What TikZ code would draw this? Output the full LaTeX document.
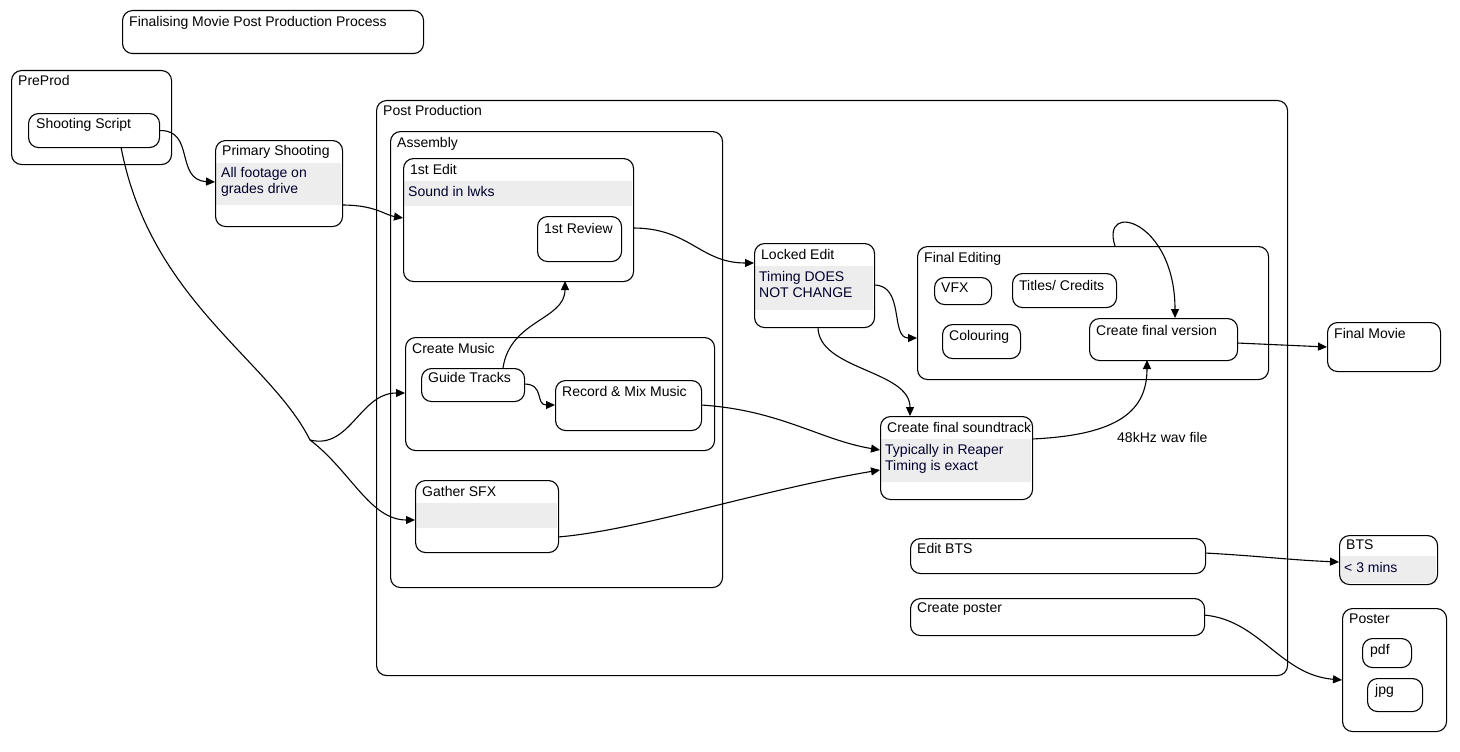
\documentclass[tikz,border=0pt]{standalone}
\usepackage{fontspec}
\setmainfont{Liberation Sans}
\usetikzlibrary{arrows.meta}
\tikzset{
 st/.style={draw,line width=1.1pt,rounded corners=10pt,inner sep=0pt,anchor=north west},
 lb/.style={anchor=north west,inner sep=0pt,font=\fontsize{14}{16}\selectfont},
 gl/.style={lb,text=black!70!blue!60!black},
 cn/.style={line width=1.1pt,-{Triangle[length=9pt,width=8pt]}},
 band/.style={fill=black!7,draw=none}
}
\newcommand{\bx}[5]{\node[st,minimum width=#4pt-#2pt,minimum height=#5pt-#3pt] (#1) at (#2,#3) {};}
\newcommand{\bd}[4]{\fill[band] (#1+1,#2) rectangle (#3-1,#4);}
\begin{document}
\begin{tikzpicture}[x=1pt,y=-1pt]
\useasboundingbox (0,0) rectangle (1460,752);
\fill[white] (0,0) rectangle (1460,752);
\bd{215}{163}{342}{205}
\bd{403}{181}{633}{206}
\bd{415}{503}{558}{528}
\bd{754}{266}{874}{310}
\bd{880}{439}{1032}{482}
\bd{1339}{556}{1437}{583}
\bx{title}{122}{10}{423}{53}
\bx{pre}{11}{70}{171}{164}
\bx{ss}{28}{113}{159}{147}
\bx{ps}{215}{140}{342}{226}
\bx{post}{376}{100}{1287}{675}
\bx{asm}{390}{131}{722}{587}
\bx{fe}{403}{158}{633}{281}
\bx{fr}{537}{216}{621}{261}
\bx{cm}{405}{337}{714}{450}
\bx{gt}{421}{368}{524}{401}
\bx{rm}{555}{380}{701}{430}
\bx{sfx}{415}{480}{558}{552}
\bx{le}{754}{243}{874}{327}
\bx{fed}{917}{246}{1268}{379}
\bx{vfx}{934}{277}{991}{304}
\bx{tc}{1012}{273}{1116}{307}
\bx{col}{942}{324}{1020}{358}
\bx{cfv}{1089}{318}{1237}{360}
\bx{fm}{1327}{322}{1440}{371}
\bx{cfs}{880}{416}{1032}{499}
\bx{bts}{910}{538}{1205}{573}
\bx{cp}{910}{598}{1204}{635}
\bx{btsn}{1339}{535}{1437}{584}
\bx{pos}{1342}{608}{1446}{731}
\bx{pdf}{1362}{638}{1411}{667}
\bx{jpg}{1367}{678}{1422}{711}
\node[lb] (t1) at (129,16) {Finalising Movie Post Production Process};
\node[lb] (t2) at (18,75) {PreProd};
\node[lb] (t3) at (36,118) {Shooting Script};
\node[lb] (t4) at (222,145) {Primary Shooting};
\node[gl,align=left] (t5) at (221,167) {All footage on\\grades drive};
\node[lb] (t6) at (383,105) {Post Production};
\node[lb] (t7) at (397,137) {Assembly};
\node[lb] (t8) at (410,164) {1st Edit};
\node[gl] (t9) at (408,186) {Sound in lwks};
\node[lb] (t10) at (544,223) {1st Review};
\node[lb] (t11) at (412,343) {Create Music};
\node[lb] (t12) at (428,372) {Guide Tracks};
\node[lb] (t13) at (562,386) {Record \& Mix Music};
\node[lb] (t14) at (422,486) {Gather SFX};
\node[lb] (t15) at (761,249) {Locked Edit};
\node[gl,align=left] (t16) at (759,271) {Timing DOES\\NOT CHANGE};
\node[lb] (t17) at (924,252) {Final Editing};
\node[lb] (t18) at (941,283) {VFX};
\node[lb] (t19) at (1019,280) {Titles/ Credits};
\node[lb] (t20) at (949,330) {Colouring};
\node[lb] (t21) at (1096,325) {Create final version};
\node[lb] (t22) at (1334,328) {Final Movie};
\node[lb] (t23) at (887,422) {Create final soundtrack};
\node[gl,align=left] (t24) at (885,444) {Typically in Reaper\\Timing is exact};
\node[lb] (t25) at (1117,432) {48kHz wav file};
\node[lb] (t26) at (917,543) {Edit BTS};
\node[lb] (t27) at (917,603) {Create poster};
\node[lb] (t28) at (1346,540) {BTS};
\node[gl] (t29) at (1344,562) {< 3 mins};
\node[lb] (t30) at (1349,614) {Poster};
\node[lb] (t31) at (1370,644) {pdf};
\node[lb] (t32) at (1375,684) {jpg};
\coordinate (mid) at (310,440);
\draw[cn] (ss.east) ++(0,0) .. controls (195,130) and (175,180) .. (ps.west |- 0,182);
\draw[cn] (342,205) .. controls (375,205) and (385,215) .. (403,218);
\draw[line width=1.1pt] (121,147) .. controls (150,300) and (270,360) .. (mid);
\draw[cn] (mid) .. controls (350,450) and (360,393) .. (405,393);
\draw[cn] (mid) .. controls (350,470) and (370,520) .. (415,520);
\draw[cn] (503,368) .. controls (510,320) and (565,320) .. (565,281);
\draw[cn] (524,384) .. controls (545,384) and (535,405) .. (555,405);
\draw[cn] (633,228) .. controls (690,228) and (700,263) .. (754,263);
\draw[cn] (874,285) .. controls (905,285) and (890,338) .. (917,338);
\draw[cn] (818,327) .. controls (818,370) and (910,370) .. (910,416);
\draw[cn] (701,405) .. controls (780,410) and (820,440) .. (880,450);
\draw[cn] (558,537) .. controls (640,530) and (760,490) .. (880,470);
\draw[cn] (1032,439) .. controls (1120,435) and (1147,410) .. (1147,360);
\draw[cn] (1115,246) .. controls (1100,200) and (1175,220) .. (1175,318);
\draw[cn] (1237,343) -- (1327,347);
\draw[cn] (1205,553) .. controls (1260,556) and (1290,560) .. (1339,562);
\draw[cn] (1204,615) .. controls (1260,620) and (1280,675) .. (1342,680);
\end{tikzpicture}
\end{document}
